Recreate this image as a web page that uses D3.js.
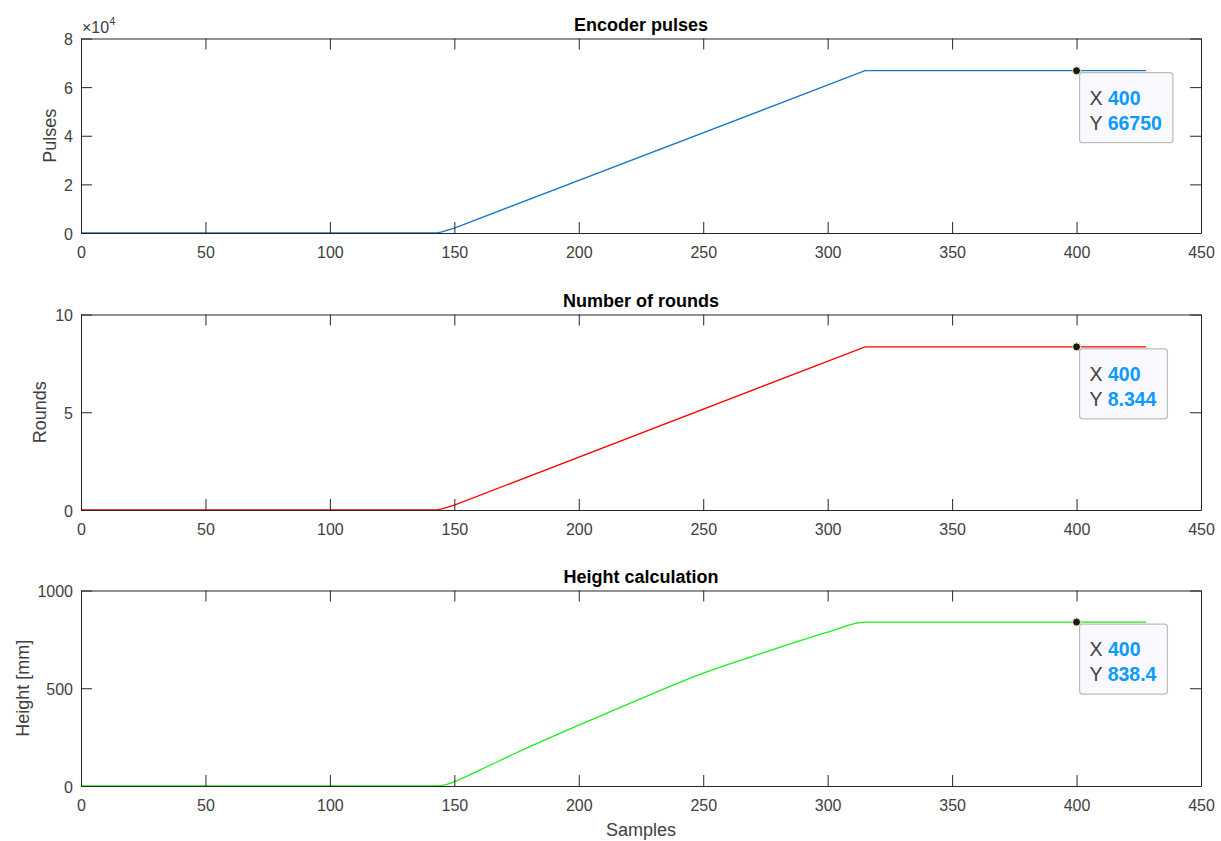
<!DOCTYPE html>
<html>
<head>
<meta charset="utf-8">
<script src="https://cdn.jsdelivr.net/npm/d3@7"></script>
<style>
  html, body { margin: 0; padding: 0; background: #ffffff; }
  svg { display: block; font-family: "Liberation Sans", Arial, Helvetica, sans-serif; }
</style>
</head>
<body>
<svg id="chart" width="1221" height="841"></svg>
<script>
// ---- data ----
const pulseSamples = [0, 143, 145, 150, 315, 428];
const pulseValues  = [0, 0, 500, 2000, 66750, 66750];

const roundSamples = [0, 143, 145, 150, 315, 428];
const roundValues  = [0, 0, 0.0625, 0.25, 8.344, 8.344];

const heightSamples = [0, 143, 147, 150, 160, 175, 200, 225, 250, 275, 300, 315, 428];
const heightValues  = [0, 0, 8, 22, 80, 170, 311, 447, 577, 685, 787, 838.4, 838.4];

const xTicks = [0, 50, 100, 150, 200, 250, 300, 350, 400, 450];
const pulseTicks = [0, 2, 4, 6, 8];        // in units of 10^4
const roundTicks = [0, 5, 10];
const heightTicks = [0, 500, 1000];

const titles = ["Encoder pulses", "Number of rounds", "Height calculation"];
const yLabels = ["Pulses", "Rounds", "Height [mm]"];
const xLabel = "Samples";

const tipX = 400;
const tipValues = ["66750", "8.344", "838.4"];
const tipY = [66750, 8.344, 838.4];

// ---- layout ----
const svg = d3.select("#chart");
const left = 81, right = 1201;
const panels = [
  { top: 38.5, bottom: 233, domain: [0, 80000], ticks: pulseTicks.map(t => t * 1e4), fmt: d => d / 1e4,
    xs: pulseSamples, ys: pulseValues, color: "#1677c4", labelX: 56, curve: d3.curveLinear },
  { top: 314.5, bottom: 510, domain: [0, 10], ticks: roundTicks, fmt: d => d,
    xs: roundSamples, ys: roundValues, color: "#ff0000", labelX: 46, curve: d3.curveLinear },
  { top: 590.5, bottom: 786, domain: [0, 1000], ticks: heightTicks, fmt: d => d,
    xs: heightSamples, ys: heightValues, color: "#1aee1a", labelX: 29, curve: d3.curveMonotoneX }
];

const axisColor = "#262626";
const tickColor = "#404040";
const tickLen = 11;

const x = d3.scaleLinear().domain([0, 450]).range([left, right]);

panels.forEach((p, i) => {
  const y = d3.scaleLinear().domain(p.domain).range([p.bottom, p.top]);
  const g = svg.append("g");

  // data line
  const pts = p.xs.map((s, k) => [s, p.ys[k]]);
  g.append("path")
    .datum(pts)
    .attr("fill", "none")
    .attr("stroke", p.color)
    .attr("stroke-width", 1.3)
    .attr("d", d3.line().curve(p.curve).x(d => x(d[0])).y(d => y(d[1])));

  const xb = g.append("g").attr("transform", `translate(0,${p.bottom})`)
    .call(d3.axisBottom(x).tickValues(xTicks).tickSizeInner(-tickLen).tickSizeOuter(0));
  const xt = g.append("g").attr("transform", `translate(0,${p.top})`)
    .call(d3.axisTop(x).tickValues(xTicks).tickSizeInner(-tickLen).tickSizeOuter(0).tickFormat(""));
  const yl = g.append("g").attr("transform", `translate(${left},0)`)
    .call(d3.axisLeft(y).tickValues(p.ticks).tickSizeInner(-tickLen).tickSizeOuter(0).tickPadding(8).tickFormat(p.fmt));
  const yr = g.append("g").attr("transform", `translate(${right},0)`)
    .call(d3.axisRight(y).tickValues(p.ticks).tickSizeInner(-tickLen).tickSizeOuter(0).tickFormat(""));

  [xb, xt, yl, yr].forEach(a => {
    a.select(".domain").attr("stroke", axisColor).attr("stroke-width", 1);
    a.selectAll(".tick line").attr("stroke", axisColor).attr("stroke-width", 1);
    a.selectAll(".tick text").attr("fill", tickColor).attr("font-size", 16)
      .attr("font-family", "'Liberation Sans', Arial, sans-serif");
  });
  xb.selectAll(".tick text").attr("dy", "0").attr("y", 25);
  yl.selectAll(".tick text").attr("dy", "0.38em");

  // title
  svg.append("text")
    .attr("x", (left + right) / 2).attr("y", p.top - 8)
    .attr("text-anchor", "middle")
    .attr("font-size", 18).attr("font-weight", "bold").attr("fill", "#000")
    .text(titles[i]);

  // y label
  svg.append("text")
    .attr("transform", `translate(${p.labelX},${(p.top + p.bottom) / 2}) rotate(-90)`)
    .attr("text-anchor", "middle")
    .attr("font-size", 18).attr("fill", tickColor)
    .text(yLabels[i]);

  // data tip
  const px = x(tipX), py = y(tipY[i]);
  const tip = svg.append("g");
  const bx = px + 3, by = py + 2;
  const rect = tip.append("rect")
    .attr("x", bx).attr("y", by).attr("rx", 3).attr("ry", 3)
    .attr("height", 70)
    .attr("fill", "#f9f9ff").attr("stroke", "#bdbdbd").attr("stroke-width", 1.2);
  const t1 = tip.append("text").attr("x", bx + 10).attr("y", by + 32).attr("font-size", 19.5);
  t1.append("tspan").attr("fill", "#404040").text("X ");
  t1.append("tspan").attr("fill", "#0a9bff").attr("font-weight", "bold").text(String(tipX));
  const t2 = tip.append("text").attr("x", bx + 10).attr("y", by + 57).attr("font-size", 19.5);
  t2.append("tspan").attr("fill", "#404040").text("Y ");
  t2.append("tspan").attr("fill", "#0a9bff").attr("font-weight", "bold").text(tipValues[i]);
  const w = Math.max(t1.node().getComputedTextLength(), t2.node().getComputedTextLength());
  rect.attr("width", w + 21);

  tip.append("circle")
    .attr("cx", px).attr("cy", py).attr("r", 4)
    .attr("fill", "#1a1a1a").attr("stroke", "#f4f0c0").attr("stroke-width", 1);
});

// exponent label for top panel
const exp = svg.append("text").attr("x", 82).attr("y", 33).attr("font-size", 16).attr("fill", tickColor);
exp.append("tspan").text("\u00d710");
exp.append("tspan").attr("font-size", 11).attr("dy", -8).text("4");

// x label
svg.append("text")
  .attr("x", (left + right) / 2).attr("y", 836)
  .attr("text-anchor", "middle")
  .attr("font-size", 18).attr("fill", tickColor)
  .text(xLabel);
</script>
</body>
</html>
